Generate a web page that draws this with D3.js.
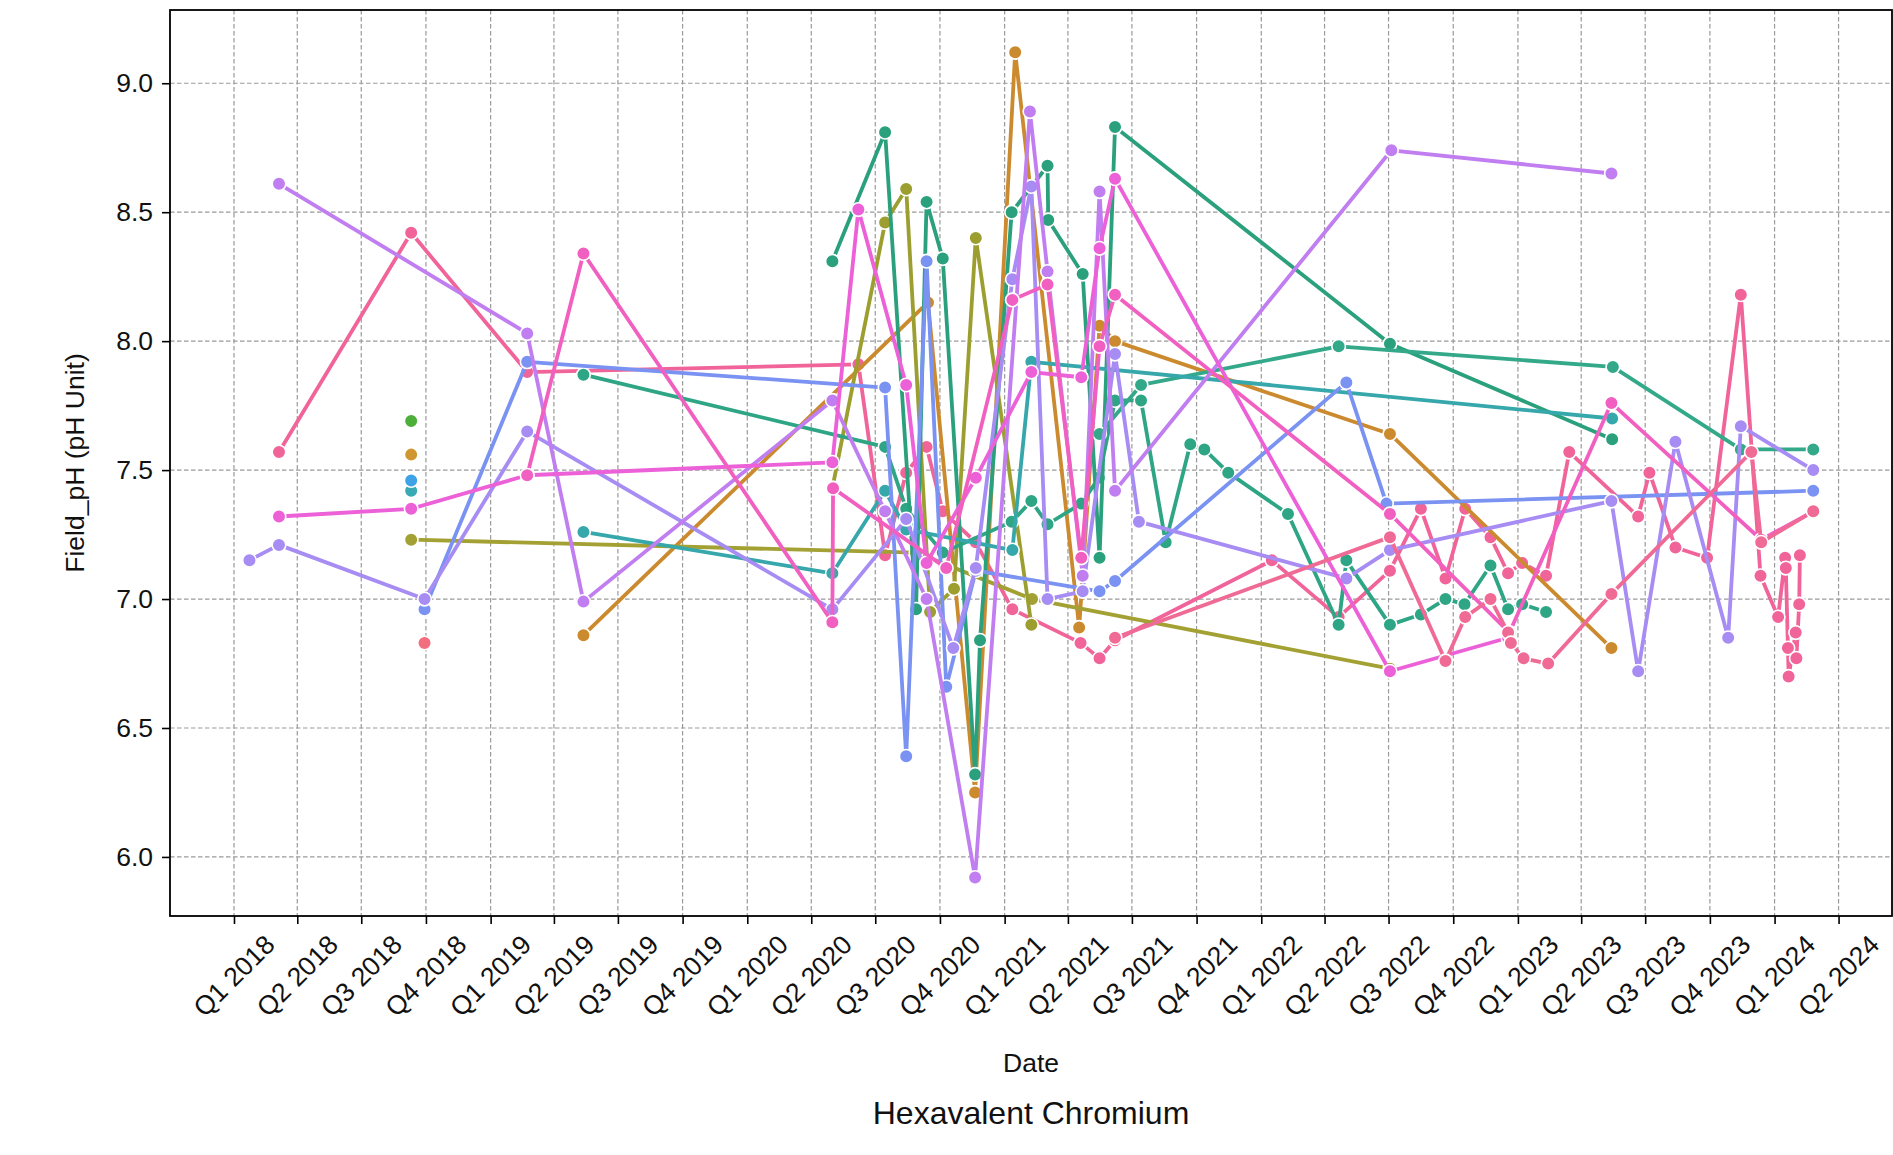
<!DOCTYPE html>
<html><head><meta charset="utf-8">
<script src="https://cdnjs.cloudflare.com/ajax/libs/d3/7.8.5/d3.min.js"></script>
<style>body{margin:0;background:#fff}svg{display:block;font-family:"Liberation Sans",Arial,sans-serif}</style>
</head><body><svg id="c" width="1893" height="1155"></svg>
<script>
// ---- data (date, Field_pH) per well ----
const wellRose = [["2018-03-06",7.57],["2018-09-10",8.42],["2019-02-22",7.88],["2020-06-07",7.91],["2020-07-15",7.17],["2020-08-14",7.49],["2020-09-12",7.59],["2020-10-05",7.34],["2020-11-21",7.22],["2021-01-12",6.96],["2021-04-19",6.83],["2021-05-16",6.77],["2021-06-07",6.84],["2022-01-16",7.15],["2022-04-21",6.93],["2022-07-03",7.11],["2022-08-16",7.35],["2022-09-20",7.08],["2022-10-18",7.35],["2022-11-23",7.24],["2022-12-18",7.10],["2023-01-07",7.14],["2023-02-10",7.09],["2023-03-15",7.57],["2023-06-21",7.32],["2023-07-07",7.49],["2023-08-13",7.20],["2023-09-27",7.16],["2023-11-14",8.18],["2023-12-12",7.09],["2024-01-06",6.93],["2024-01-16",7.16],["2024-01-17",7.12],["2024-01-20",6.81],["2024-01-21",6.70],["2024-01-31",6.87],["2024-02-01",6.77],["2024-02-05",6.98],["2024-02-06",7.17]];
const wellPink = [["2021-06-07",6.85],["2022-07-03",7.24],["2022-09-20",6.76],["2022-10-18",6.93],["2022-11-23",7.00],["2022-12-18",6.87],["2022-12-22",6.83],["2023-01-09",6.77],["2023-02-13",6.75],["2023-05-14",7.02],["2023-11-29",7.57],["2023-12-13",7.22],["2024-02-25",7.34]];
const wellRed = [["2018-09-29",6.83]];
const wellOrange = [["2019-05-13",6.86],["2020-09-14",8.15],["2020-11-20",6.25],["2021-01-16",9.12],["2021-04-17",6.89],["2021-05-16",8.06],["2021-06-07",8.00],["2022-07-03",7.64],["2023-05-14",6.81]];
const wellOrange2 = [["2018-09-10",7.56]];
const wellOlive = [["2018-09-10",7.23],["2020-08-28",7.18],["2021-02-09",7.00],["2022-07-03",6.73]];
const wellOlive2 = [["2020-05-01",7.43],["2020-07-15",8.46],["2020-08-14",8.59],["2020-09-17",6.95],["2020-10-21",7.04],["2020-11-21",8.40],["2021-02-08",6.90]];
const wellGreen = [["2018-09-10",7.69]];
const wellGreenA = [["2019-05-13",7.87],["2020-07-15",7.59],["2020-08-14",7.35],["2020-10-05",7.18],["2021-01-11",7.30],["2021-02-08",7.38],["2021-03-03",7.29],["2021-04-20",7.37],["2021-05-15",7.47],["2021-06-07",7.77],["2021-07-14",7.77],["2021-08-18",7.22],["2021-09-22",7.60],["2021-10-12",7.58],["2021-11-15",7.49],["2022-02-08",7.33],["2022-04-21",6.90],["2022-05-02",7.15],["2022-07-03",6.90],["2022-08-16",6.94],["2022-09-20",7.00],["2022-10-17",6.98],["2022-11-23",7.13],["2022-12-18",6.96],["2023-01-07",6.98],["2023-02-10",6.95]];
const wellGreenB = [["2020-05-01",8.31],["2020-07-15",8.81],["2020-08-28",6.96],["2020-09-12",8.54],["2020-10-05",8.32],["2020-11-20",6.32],["2020-11-27",6.84],["2021-01-11",8.50],["2021-03-03",8.68],["2021-03-04",8.47],["2021-04-22",8.26],["2021-05-16",7.16],["2021-06-07",8.83],["2022-07-03",7.99],["2023-05-15",7.62]];
const wellGreenD = [["2021-05-16",7.64],["2021-07-14",7.83],["2022-04-21",7.98],["2023-05-16",7.90],["2023-11-14",7.58],["2024-02-25",7.58]];
const wellTeal = [["2019-05-13",7.26],["2020-05-01",7.10],["2020-07-15",7.42],["2020-08-14",7.27],["2021-01-12",7.19],["2021-02-08",7.92],["2023-05-15",7.70]];
const wellTeal2 = [["2018-09-10",7.42]];
const wellCyan = [["2018-09-10",7.46]];
const wellBlue = [["2018-09-29",6.96],["2019-02-22",7.92],["2020-07-15",7.82],["2020-08-14",6.39],["2020-09-12",8.31],["2020-10-10",6.66],["2020-11-21",7.11],["2021-05-16",7.03],["2021-06-07",7.07],["2022-05-02",7.84],["2022-06-28",7.37],["2024-02-25",7.42]];
const wellLavender = [["2018-01-23",7.15],["2018-03-06",7.21],["2018-09-29",7.00],["2019-02-22",7.65],["2020-05-01",6.96],["2020-08-14",7.31],["2020-10-20",6.81],["2020-11-21",7.12],["2021-01-12",8.24],["2021-02-08",8.60],["2021-03-03",7.00],["2021-04-22",7.03],["2021-06-07",7.95],["2021-07-11",7.30],["2022-05-02",7.08],["2022-07-03",7.19],["2023-05-14",7.38],["2023-06-21",6.72],["2023-08-13",7.61],["2023-10-27",6.85],["2023-11-14",7.67],["2024-02-25",7.50]];
const wellViolet = [["2018-03-06",8.61],["2019-02-22",8.03],["2019-05-13",6.99],["2020-05-01",7.77],["2020-07-15",7.34],["2020-09-12",7.00],["2020-11-20",5.92],["2021-02-06",8.89],["2021-03-03",8.27],["2021-04-22",7.09],["2021-05-16",8.58],["2021-06-07",7.42],["2022-07-05",8.74],["2023-05-14",8.65]];
const wellMagenta = [["2018-03-06",7.32],["2018-09-10",7.35],["2019-02-22",7.48],["2020-05-01",7.53],["2020-06-07",8.51],["2020-08-14",7.83],["2020-09-12",7.14],["2020-11-21",7.47],["2021-02-08",7.88],["2021-04-20",7.86],["2021-05-16",8.36],["2021-06-07",8.63],["2022-07-03",6.72],["2022-12-18",6.85]];
const wellMagenta2 = [["2019-02-22",7.48],["2019-05-13",8.34],["2020-05-01",6.91],["2020-05-02",7.43],["2020-10-10",7.12],["2021-01-12",8.16],["2021-03-03",8.22],["2021-04-20",7.16],["2021-05-16",7.98],["2021-06-07",8.18],["2022-07-03",7.33],["2022-12-20",6.87],["2023-05-14",7.76],["2023-12-13",7.23],["2024-02-25",7.34]];

const seriesData = [wellRed, wellRose, wellOrange2, wellOrange, wellOlive, wellOlive2, wellGreen, wellGreenA, wellGreenB, wellGreenD, wellTeal, wellTeal2, wellCyan, wellBlue, wellLavender, wellViolet, wellMagenta, wellMagenta2, wellPink];
const seriesColors = ["#f26d7e","#f0649a","#d0962f","#cc8a2f","#a3a133","#9c9f30","#4caf3a","#2ea584","#2aa07c","#33a98a","#36a7aa","#38a9b5","#3da2e6","#7a92f2","#a68cf3","#c07ef0","#ec60d8","#f160c0","#f06a96"];
const yTicks = [6.0, 6.5, 7.0, 7.5, 8.0, 8.5, 9.0];
const xLabel = "Date", yLabel = "Field_pH (pH Unit)", title = "Hexavalent Chromium";

// ---- drawing ----
const parse = d3.utcParse("%Y-%m-%d");
const L = 170, R = 1892, T = 10, B = 916;
const x = d3.scaleUtc().domain([parse("2017-10-02"), parse("2024-06-16")]).range([L, R]);
const y = d3.scaleLinear().domain([5.771, 9.284]).range([B, T]);
const svg = d3.select("#c");
svg.append("rect").attr("width",1893).attr("height",1155).attr("fill","#fff");

const qTicks = d3.utcMonth.every(3).range(parse("2018-01-01"), parse("2024-04-02"));
const fmtQ = d => "Q" + (Math.floor(d.getUTCMonth()/3)+1) + " " + d.getUTCFullYear();

// grid
const grid = svg.append("g").attr("stroke","#9a9a9a").attr("stroke-width",1.2).attr("stroke-dasharray","4.5,2.5");
grid.selectAll(".gx").data(qTicks).join("line").attr("x1",d=>x(d)).attr("x2",d=>x(d)).attr("y1",T).attr("y2",B);
grid.selectAll(".gy").data(yTicks).join("line").attr("x1",L).attr("x2",R).attr("y1",d=>y(d)).attr("y2",d=>y(d));

// series
const line = d3.line().x(d=>x(parse(d[0]))).y(d=>y(d[1]));
const plot = svg.append("g");
seriesData.forEach((s,i)=>{
  const g = plot.append("g");
  if (s.length > 1) g.append("path").attr("d", line(s)).attr("fill","none").attr("stroke",seriesColors[i]).attr("stroke-width",3.8).attr("stroke-linejoin","round");
  g.selectAll("circle").data(s).join("circle").attr("cx",d=>x(parse(d[0]))).attr("cy",d=>y(d[1])).attr("r",6.8)
    .attr("fill",seriesColors[i]).attr("stroke","#fff").attr("stroke-width",1.6);
});

// frame
svg.append("rect").attr("x",L).attr("y",T).attr("width",R-L).attr("height",B-T).attr("fill","none").attr("stroke","#000").attr("stroke-width",1.8);

// axes
const xa = svg.append("g").attr("transform",`translate(0,${B})`)
  .call(d3.axisBottom(x).tickValues(qTicks).tickSize(8).tickFormat(""));
xa.select(".domain").remove();
xa.selectAll(".tick line").attr("stroke","#000").attr("stroke-width",1.6);
svg.append("g").selectAll("text").data(qTicks).join("text")
  .attr("transform",d=>`translate(${x(d)},976) rotate(-45)`)
  .attr("text-anchor","middle").attr("dominant-baseline","central")
  .attr("font-size",26.5).attr("fill","#111").text(fmtQ);

const ya = svg.append("g").attr("transform",`translate(${L},0)`)
  .call(d3.axisLeft(y).tickValues(yTicks).tickSize(8).tickPadding(9).tickFormat(d3.format(".1f")));
ya.select(".domain").remove();
ya.selectAll(".tick line").attr("stroke","#000").attr("stroke-width",1.6);
ya.selectAll(".tick text").attr("font-size",26.5).attr("fill","#111").attr("font-family","Liberation Sans, Arial, sans-serif");

svg.append("text").attr("x",(L+R)/2).attr("y",1063).attr("text-anchor","middle").attr("dominant-baseline","central").attr("font-size",26.5).attr("fill","#111").text(xLabel);
svg.append("text").attr("transform",`translate(75,${(T+B)/2}) rotate(-90)`).attr("text-anchor","middle").attr("dominant-baseline","central").attr("font-size",26.5).attr("fill","#111").text(yLabel);
svg.append("text").attr("x",(L+R)/2).attr("y",1113).attr("text-anchor","middle").attr("dominant-baseline","central").attr("font-size",32).attr("fill","#111").text(title);
</script></body></html>
